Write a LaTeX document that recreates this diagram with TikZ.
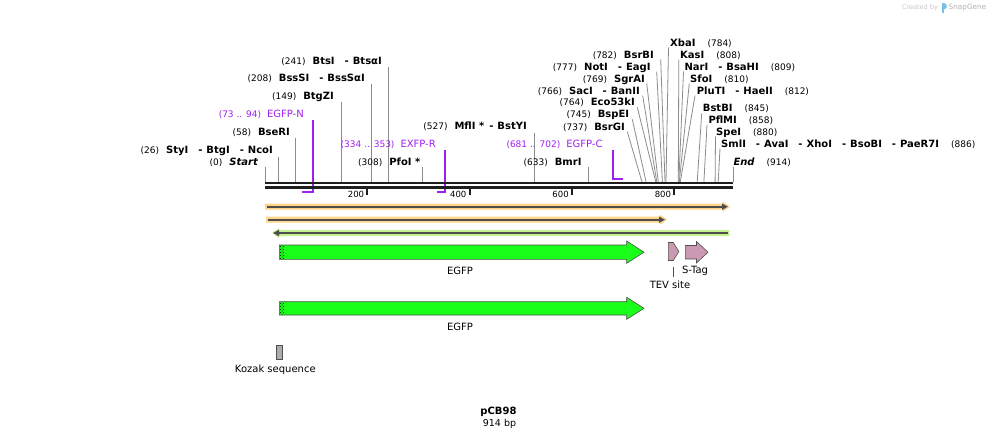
\documentclass[tikz,border=0pt]{standalone}
\usepackage{fontspec}
\setmainfont{DejaVu Sans}
\usetikzlibrary{patterns,arrows.meta}
\definecolor{prim}{RGB}{160,32,240}
\definecolor{cutg}{RGB}{140,140,140}
\definecolor{axisc}{RGB}{30,30,30}
\definecolor{orband}{RGB}{255,211,138}
\definecolor{grband}{RGB}{196,242,142}
\definecolor{innerc}{RGB}{77,77,77}
\definecolor{egfpc}{RGB}{25,255,25}
\definecolor{featpink}{RGB}{204,153,178}
\definecolor{outl}{RGB}{80,80,80}
\definecolor{logoc}{RGB}{120,190,230}
\newcommand\snum[1]{{\fontsize{9}{10}\selectfont\mdseries #1}}
\newcommand\enz[1]{{\fontsize{10}{12}\selectfont\bfseries #1}}
\newcommand\sepd{\hspace{10pt}{\fontsize{10}{12}\selectfont\bfseries -}\hspace{4pt}}
\newcommand\lgap{\hspace{7pt}}
\newcommand\rgap{\hspace{12pt}}
\tikzset{
  lblL/.style={anchor=base east, inner sep=0pt},
  lblR/.style={anchor=base west, inner sep=0pt},
  plbl/.style={anchor=base east, inner sep=0pt, text=prim},
  cut/.style={draw=cutg, line width=0.8pt},
  primer/.style={draw=prim, line width=1.6pt, line join=miter},
  axisline/.style={draw=axisc, line width=2.7pt},
  tick/.style={draw=axisc, line width=1.8pt},
  ticklbl/.style={anchor=east, inner sep=0pt, font=\fontsize{8.5}{10}\selectfont},
  feat/.style={draw=outl, line width=0.6pt},
  flbl/.style={inner sep=0pt, font=\fontsize{10}{12}\selectfont},
  innerarrow/.style={draw=innerc, line width=2pt, -{Triangle[length=6pt,width=6pt]}}
}
\begin{document}
\begin{tikzpicture}[x=1pt,y=-1pt]
\useasboundingbox[fill=white] (0,0) rectangle (999,440);

% watermark
\node[inner sep=0pt, text=gray!45, font=\fontsize{6.5}{7}\selectfont] (wm1) at (920,8) {Created by};
\fill[logoc] (941.5,3) rectangle (944,13);
\fill[logoc] (944,3) -- (946.5,4.5) -- (946.5,8) -- (944,9.5) -- cycle;
\node[inner sep=0pt, text=gray!60, font=\fontsize{7.3}{8}\selectfont, anchor=west] (wm2) at (948.5,8) {SnapGene};

% primers (drawn before axis)
\coordinate (pn1) at (313,120); \coordinate (pn2) at (313,191.7); \coordinate (pn3) at (302,191.7);
\draw[primer] (pn1) -- (pn2) -- (pn3);
\coordinate (pr1) at (445,150); \coordinate (pr2) at (445,191.7); \coordinate (pr3) at (436.7,191.7);
\draw[primer] (pr1) -- (pr2) -- (pr3);
\coordinate (pc1) at (612.7,150); \coordinate (pc2) at (612.7,179); \coordinate (pc3) at (622.7,179);
\draw[primer] (pc1) -- (pc2) -- (pc3);

% cut site lines
\foreach \n/\tx/\ty/\ax in {0/265.3/167/265.3, 26/278.3/156.7/278.3, 58/295.7/137.7/295.7,
  149/341.7/101.7/341.7, 208/371.3/84.3/371.3, 241/388.3/66.7/388.3, 308/422.3/166.7/422.3,
  527/534.3/133.3/534.3, 633/588.3/167.3/588.3, 737/627.3/131.7/642, 745/632.3/119.3/646.1,
  764/637.3/107.3/655.8, 766/642.7/95.7/656.8, 769/646.7/83.3/658.3, 777/656.7/71.7/662.4,
  782/660.7/59.3/665, 784/668.5/47.5/666, 808/678.8/59.5/678.3, 809/683.5/71.5/678.8,
  810/689.3/83.5/679.3, 812/695/95.5/680.3, 845/701.7/113.3/697.2, 858/707/125/703.9,
  880/715.5/136.5/715.1, 886/720/148.5/718.2, 914/733/167/733}{
  \coordinate (t\n) at (\tx,\ty);
  \coordinate (a\n) at (\ax,182);
  \draw[cut] (t\n) -- (a\n);
}

% axis
\coordinate (axL1) at (265,183); \coordinate (axR1) at (733,183);
\coordinate (axL2) at (265,187.3); \coordinate (axR2) at (733,187.3);
\draw[axisline] (axL1) -- (axR1);
\draw[axisline] (axL2) -- (axR2);
\foreach \v/\x in {200/367.3, 400/469.6, 600/571.9, 800/674.2}{
  \coordinate (tk\v a) at (\x,188.5);
  \coordinate (tk\v b) at (\x,195);
  \draw[tick] (tk\v a) -- (tk\v b);
  \node[ticklbl] (tl\v) at (\x-3,194) {\v};
}

% left labels
\node[lblL] (l0) at (258,165.9) {\snum{(0)}\lgap\enz{\itshape Start}};
\node[lblL] (l26) at (273,153.6) {\snum{(26)}\lgap\enz{StyI}\sepd\enz{BtgI}\sepd\enz{NcoI}};
\node[lblL] (l58) at (290,135.6) {\snum{(58)}\lgap\enz{BseRI}};
\node[plbl] (p1) at (304,117.6) {\snum{(73 .. 94)}\hspace{6pt}{\fontsize{10}{12}\selectfont EGFP-N}};
\node[lblL] (l149) at (334,99.6) {\snum{(149)}\lgap\enz{BtgZI}};
\node[lblL] (l208) at (365,81.9) {\snum{(208)}\lgap\enz{BssSI}\sepd\enz{BssSαI}};
\node[lblL] (l241) at (382,64.3) {\snum{(241)}\lgap\enz{BtsI}\sepd\enz{BtsαI}};
\node[lblL] (l308) at (420.5,165.6) {\snum{(308)}\lgap\enz{PfoI *}};
\node[plbl] (p2) at (436,147.6) {\snum{(334 .. 353)}\hspace{6pt}{\fontsize{10}{12}\selectfont EXFP-R}};
\node[lblL] (l527) at (527,129.3) {\snum{(527)}\lgap\enz{MflI *}\hspace{5pt}{\fontsize{10}{12}\selectfont\bfseries -}\hspace{4pt}\enz{BstYI}};
\node[plbl] (p3) at (602.7,147.9) {\snum{(681 .. 702)}\hspace{6pt}{\fontsize{10}{12}\selectfont EGFP-C}};
\node[lblL] (l633) at (581.7,165.9) {\snum{(633)}\lgap\enz{BmrI}};
\node[lblL] (l737) at (625,130.3) {\snum{(737)}\lgap\enz{BsrGI}};
\node[lblL] (l745) at (629.3,117.6) {\snum{(745)}\lgap\enz{BspEI}};
\node[lblL] (l764) at (635,105.9) {\snum{(764)}\lgap\enz{Eco53kI}};
\node[lblL] (l766) at (640,94.3) {\snum{(766)}\lgap\enz{SacI}\sepd\enz{BanII}};
\node[lblL] (l769) at (645,82.6) {\snum{(769)}\lgap\enz{SgrAI}};
\node[lblL] (l777) at (650.7,70.3) {\snum{(777)}\lgap\enz{NotI}\sepd\enz{EagI}};
\node[lblL] (l782) at (654,58.6) {\snum{(782)}\lgap\enz{BsrBI}};

% right labels
\node[lblR] (r784) at (670,46.3) {\enz{XbaI}\rgap\snum{(784)}};
\node[lblR] (r808) at (680,58.6) {\enz{KasI}\rgap\snum{(808)}};
\node[lblR] (r809) at (684.3,70.3) {\enz{NarI}\sepd\enz{BsaHI}\rgap\snum{(809)}};
\node[lblR] (r810) at (690,82.6) {\enz{SfoI}\rgap\snum{(810)}};
\node[lblR] (r812) at (696.7,94.3) {\enz{PluTI}\sepd\enz{HaeII}\rgap\snum{(812)}};
\node[lblR] (r845) at (702.7,111.9) {\enz{BstBI}\rgap\snum{(845)}};
\node[lblR] (r858) at (708.3,123.6) {\enz{PflMI}\rgap\snum{(858)}};
\node[lblR] (r880) at (716,135.3) {\enz{SpeI}\rgap\snum{(880)}};
\node[lblR] (r886) at (721,147.6) {\enz{SmlI}\sepd\enz{AvaI}\sepd\enz{XhoI}\sepd\enz{BsoBI}\sepd\enz{PaeR7I}\rgap\snum{(886)}};
\node[lblR] (r914) at (733.3,165.9) {\enz{\itshape End}\rgap\snum{(914)}};

% translation rows
\fill[orband] (265,203.7) -- (723,203.7) -- (723,201.7) -- (730,206.7) -- (723,211.7) -- (723,209.7) -- (265,209.7) -- cycle;
\coordinate (o1a) at (267,206.7); \coordinate (o1b) at (728,206.7);
\draw[innerarrow] (o1a) -- (o1b);
\fill[orband] (266,216.7) -- (660,216.7) -- (660,214.7) -- (667,219.7) -- (660,224.7) -- (660,222.7) -- (266,222.7) -- cycle;
\coordinate (o2a) at (268,219.7); \coordinate (o2b) at (665,219.7);
\draw[innerarrow] (o2a) -- (o2b);
\fill[grband] (729.3,230) -- (279,230) -- (279,228) -- (272,233) -- (279,238) -- (279,236) -- (729.3,236) -- cycle;
\coordinate (g1a) at (727.5,233); \coordinate (g1b) at (273,233);
\draw[innerarrow] (g1a) -- (g1b);

% EGFP 1
\draw[feat, fill=egfpc] (279.3,245) -- (626.7,245) -- (626.7,241) -- (644,252.2) -- (626.7,263.3) -- (626.7,259.3) -- (279.3,259.3) -- cycle;
\fill[pattern=crosshatch dots, pattern color=black] (279.6,245.3) rectangle (284,259);
\node[flbl] (egfp1) at (460,271) {EGFP};
% TEV
\draw[feat, fill=featpink] (668.3,242.5) -- (673.3,242.5) -- (678.8,251.5) -- (673.3,260.5) -- (668.3,260.5) -- cycle;
\coordinate (tev1) at (673.3,267); \coordinate (tev2) at (673.3,277);
\draw[draw=outl, line width=0.6pt] (tev1) -- (tev2);
\node[flbl] (tevl) at (670,284.5) {TEV site};
% S-Tag
\draw[feat, fill=featpink] (685.3,245.5) -- (696.5,245.5) -- (696.5,241.5) -- (708,252.2) -- (696.5,263) -- (696.5,259) -- (685.3,259) -- cycle;
\node[flbl] (stag) at (695,270.5) {S-Tag};

% EGFP 2
\draw[feat, fill=egfpc] (279.3,301.7) -- (626.7,301.7) -- (626.7,297.3) -- (644,308.3) -- (626.7,319.3) -- (626.7,315) -- (279.3,315) -- cycle;
\fill[pattern=crosshatch dots, pattern color=black] (279.6,302) rectangle (284,314.7);
\node[flbl] (egfp2) at (460,327) {EGFP};

% Kozak
\draw[feat, fill=gray!65] (276,345) rectangle (282.7,359);
\node[flbl] (koz) at (275.3,370) {Kozak sequence};

% title
\node[inner sep=0pt, font=\fontsize{10}{12}\selectfont\bfseries] (title) at (498.5,411.5) {pCB98};
\node[inner sep=0pt, font=\fontsize{9.5}{11}\selectfont] (len) at (499.5,423.5) {914 bp};
\end{tikzpicture}
\end{document}
